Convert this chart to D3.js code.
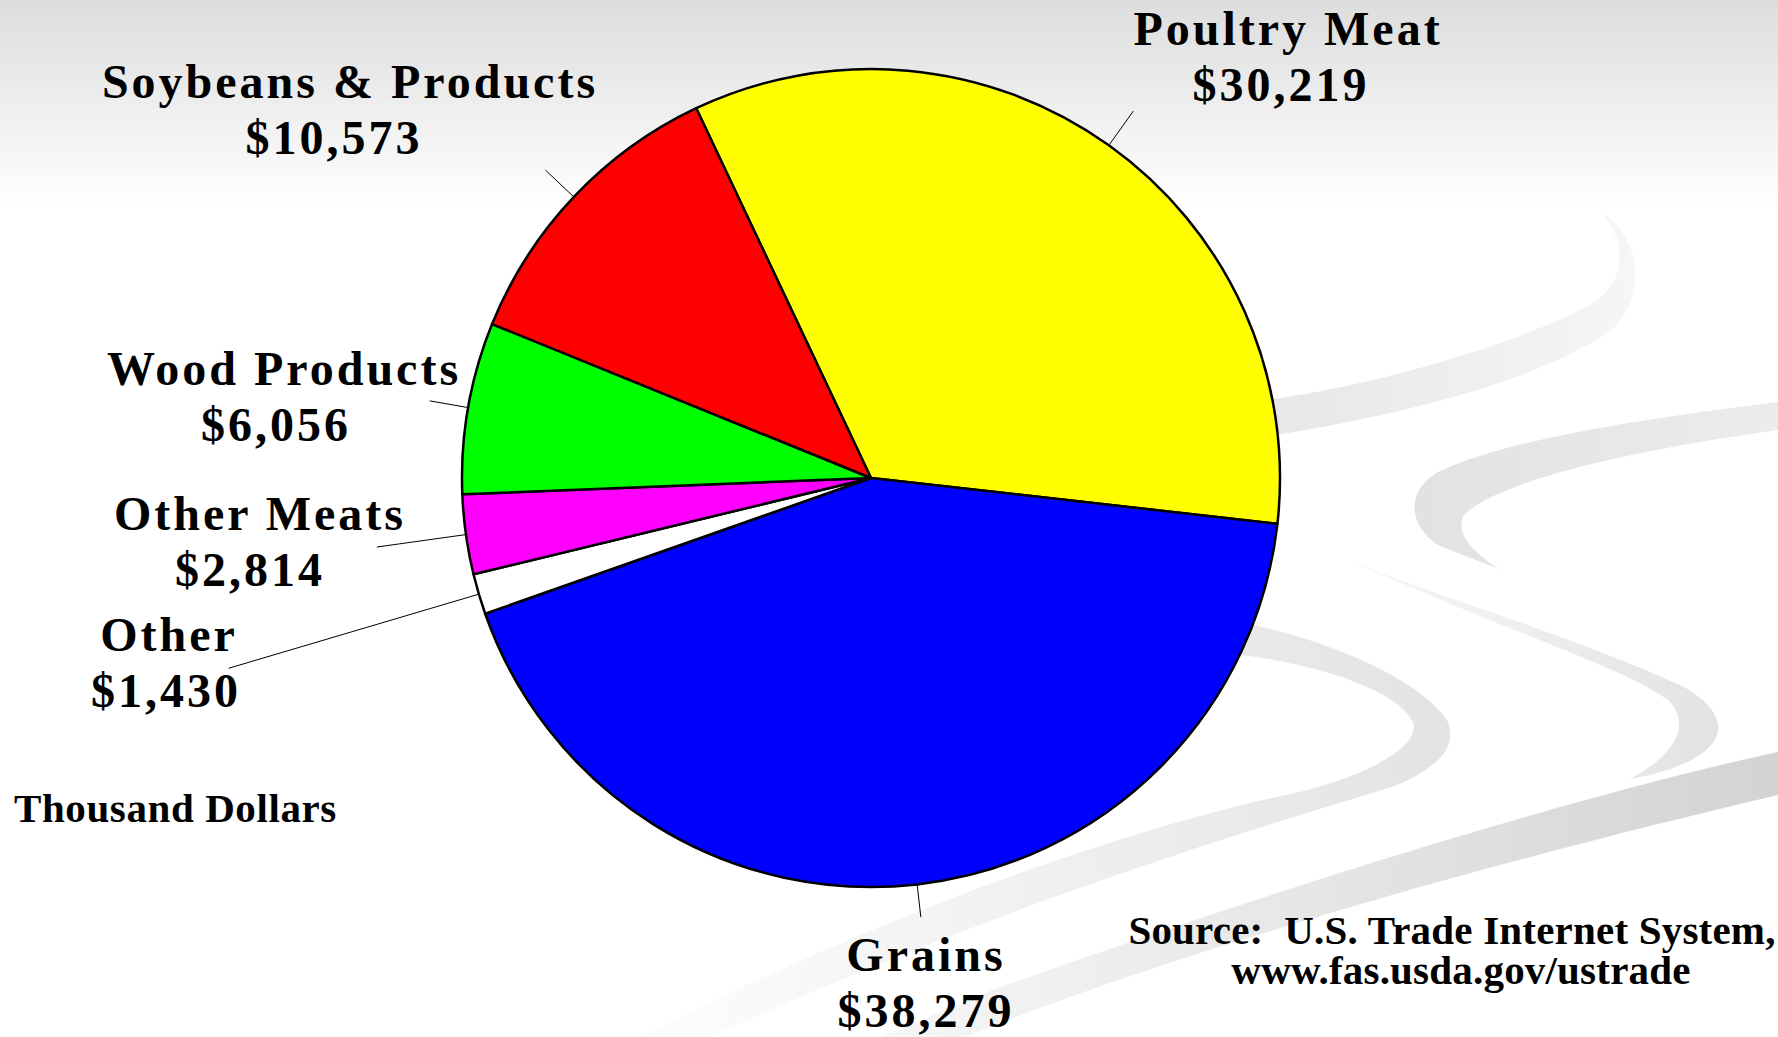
<!DOCTYPE html>
<html>
<head>
<meta charset="utf-8">
<script src="https://cdn.jsdelivr.net/npm/d3@7"></script>
<style>
  html, body { margin: 0; padding: 0; background: #fff; }
  svg { display: block; }
  text { font-family: "Liberation Serif", "Times New Roman", serif; font-weight: bold; fill: #000; }
</style>
</head>
<body>
<div id="chart"></div>
<script>
// export values, thousand dollars
var categories = ['Poultry Meat', 'Grains', 'Other', 'Other Meats', 'Wood Products', 'Soybeans & Products'];
var values = [30219, 38279, 1430, 2814, 6056, 10573];
var colors = ['#ffff00', '#0000ff', '#ffffff', '#ff00ff', '#00ff00', '#ff0000'];

// label placement: leader outer radius, first line centre / baseline, second line offset
var labelLayout = [
  {lead: 451, x: 1288, y: 45,  dx2: -7},
  {lead: 442, x: 926,  y: 971, dx2: 0},
  {lead: 670, x: 169,  y: 651, dx2: -3},
  {lead: 499, x: 260,  y: 530, dx2: -10},
  {lead: 448, x: 284,  y: 385, dx2: -8},
  {lead: 448, x: 350,  y: 98,  dx2: -16}
];

function pie_chart(container) {
  var _chart = {};
  var _width = 1778, _height = 1037,
      _cx = 871, _cy = 478, _r = 409,
      _start = -25.3 * Math.PI / 180,
      _svg = container.append('svg');

  var fmt = d3.format(',');

  _chart.render = function() {
    _svg.attr('width', _width).attr('height', _height);
    renderBackground();
    renderPie();
    renderLabels();
    renderNotes();
  };

  function grad(defs, id, x1, y1, x2, y2, stops) {
    var g = defs.append('linearGradient').attr('id', id)
      .attr('gradientUnits', 'userSpaceOnUse')
      .attr('x1', x1).attr('y1', y1).attr('x2', x2).attr('y2', y2);
    stops.forEach(function(s) {
      g.append('stop').attr('offset', s[0]).attr('stop-color', s[1]);
    });
  }

  function renderBackground() {
    var defs = _svg.append('defs');
    grad(defs, 'top', 0, 0, 0, 210, [[0, '#dddddd'], [1, '#ffffff']]);
    grad(defs, 'swA', 1250, 0, 1640, 0, [[0, '#e6e6e6'], [1, '#f6f6f6']]);
    grad(defs, 'swB', 1420, 0, 1778, 0, [[0, '#e2e2e2'], [1, '#ececec']]);
    grad(defs, 'swC', 1315, 0, 1730, 0, [[0, '#fafafa'], [1, '#e2e2e2']]);
    grad(defs, 'swD', 700, 0, 1450, 0, [[0, '#fbfbfb'], [1, '#e3e3e3']]);
    grad(defs, 'swE', 880, 0, 1778, 0, [[0, '#f7f7f7'], [1, '#d3d3d3']]);

    _svg.append('rect').attr('width', _width).attr('height', 220).attr('fill', 'url(#top)');

    var swooshes = [
      ['swA', 'M1230,405 C1350,392 1500,352 1590,305 C1630,280 1625,240 1602,212 C1642,240 1645,292 1617,325 C1560,372 1420,415 1230,442 Z'],
      ['swB', 'M1778,402 C1650,418 1500,440 1436,473 C1402,495 1412,530 1440,546 L1499,569 C1470,550 1455,532 1464,515 C1492,486 1600,455 1778,430 Z'],
      ['swC', 'M1315,545 C1400,586 1560,630 1682,686 C1738,716 1735,760 1630,779 C1680,752 1690,722 1668,700 C1620,665 1500,630 1315,545 Z'],
      ['swD', 'M1240,622 C1330,640 1420,680 1447,720 C1460,750 1432,770 1395,786 C1250,830 1000,905 710,1037 L640,1037 C900,905 1150,822 1300,792 C1378,772 1420,744 1413,722 C1400,692 1320,664 1240,655 Z'],
      ['swE', 'M1778,752 C1600,790 1300,880 995,989 L880,1037 L965,1037 C1150,962 1450,872 1778,795 Z']
    ];
    _svg.append('g').attr('class', 'swooshes')
      .selectAll('path')
      .data(swooshes)
      .enter().append('path')
        .attr('d', function(d) { return d[1]; })
        .attr('fill', function(d) { return 'url(#' + d[0] + ')'; });
  }

  var _arcs;

  function renderPie() {
    var data = categories.map(function(c, i) {
      return {name: c, value: values[i], color: colors[i], layout: labelLayout[i]};
    });
    _arcs = d3.pie()
      .sort(null)
      .value(function(d) { return d.value; })
      .startAngle(_start)
      .endAngle(_start + 2 * Math.PI)(data);

    var arc = d3.arc().innerRadius(0).outerRadius(_r);

    _svg.append('g')
      .attr('class', 'slices')
      .attr('transform', 'translate(' + _cx + ',' + _cy + ')')
      .selectAll('path')
      .data(_arcs)
      .enter().append('path')
        .attr('d', arc)
        .attr('fill', function(d) { return d.data.color; })
        .attr('stroke', '#000')
        .attr('stroke-width', 2.5)
        .attr('stroke-linejoin', 'round');
  }

  function polar(a, r) {
    return [_cx + r * Math.sin(a), _cy - r * Math.cos(a)];
  }

  function renderLabels() {
    var g = _svg.append('g').attr('class', 'labels');

    g.selectAll('line')
      .data(_arcs)
      .enter().append('line')
        .each(function(d) {
          var mid = (d.startAngle + d.endAngle) / 2,
              p0 = polar(mid, _r), p1 = polar(mid, d.data.layout.lead);
          d3.select(this)
            .attr('x1', p0[0]).attr('y1', p0[1])
            .attr('x2', p1[0]).attr('y2', p1[1]);
        })
        .attr('stroke', '#000')
        .attr('stroke-width', 1);

    var t = g.selectAll('text')
      .data(_arcs)
      .enter().append('text')
        .attr('text-anchor', 'middle')
        .attr('font-size', 48)
        .attr('letter-spacing', 3);

    t.append('tspan')
      .attr('x', function(d) { return d.data.layout.x; })
      .attr('y', function(d) { return d.data.layout.y; })
      .text(function(d) { return d.data.name; });

    t.append('tspan')
      .attr('x', function(d) { return d.data.layout.x + d.data.layout.dx2; })
      .attr('y', function(d) { return d.data.layout.y + 56; })
      .text(function(d) { return '$' + fmt(d.data.value); });
  }

  function renderNotes() {
    _svg.append('text')
      .attr('x', 14).attr('y', 822)
      .attr('font-size', 41)
      .attr('letter-spacing', 0.6)
      .text('Thousand Dollars');

    var src = _svg.append('text')
      .attr('text-anchor', 'middle')
      .attr('font-size', 41)
      .attr('letter-spacing', 0.2)
      .style('white-space', 'pre');
    src.append('tspan').attr('x', 1452).attr('y', 944).text('Source:  U.S. Trade Internet System,');
    src.append('tspan').attr('x', 1461).attr('y', 984).text('www.fas.usda.gov/ustrade');
  }

  return _chart;
}

pie_chart(d3.select('#chart')).render();
</script>
</body>
</html>
